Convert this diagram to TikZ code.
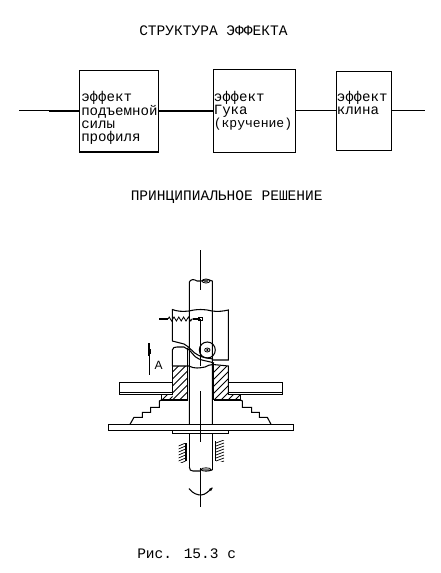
\documentclass[tikz,border=0pt]{standalone}
\usepackage{fontspec}
\setmainfont{Liberation Mono}
\usetikzlibrary{decorations.pathmorphing}
\newcommand{\hatchrect}[5]{% x0 y0 x1 y1 spacing
  \begin{scope}
    \clip (#1,#2) rectangle (#3,#4);
    \foreach \k in {-10,...,14} {
      \draw[hatchline] ({#1+\k*#5},#4) -- ({#1+\k*#5+(#4-#2)},#2);
    }
  \end{scope}}
\newcommand{\bearing}[4]{% x0 x1 y0 y1
  \begin{scope}
    \clip (#1,#3) rectangle (#2,#4);
    \foreach \k in {0,...,8} {
      \draw[hatchline] (#1,{#3+3+\k*3}) -- (#2,{#3+\k*3});
    }
  \end{scope}}
\tikzset{
  ln/.style={line width=0.8pt,black},
  hatchline/.style={line width=0.55pt,black},
  txt/.style={inner sep=0pt,font=\fontsize{10.6}{9.6}\selectfont,align=left,anchor=north west},
  ttl/.style={inner sep=0pt,font=\fontsize{10.9}{9.75}\selectfont,anchor=west},
  bx/.style={draw,line width=0.8pt,inner sep=0pt}
}
\begin{document}
\begin{tikzpicture}[x=0.75pt,y=-0.75pt]
\useasboundingbox (0,0) rectangle (440,573);
\fill[white] (0,0) rectangle (440,573);
% titles
\node[ttl] (t1) at (139,31) {СТРУКТУРА ЭФФЕКТА};
\node[ttl] (t2) at (130.5,197) {ПРИНЦИПИАЛЬНОЕ РЕШЕНИЕ};
\node[ttl] (t3) at (137,554) {Рис. 15.3 с};
% block diagram
\node[bx,minimum width=78.5pt*0.75,minimum height=81.5pt*0.75,anchor=north west] (b1) at (79.3,70) {};
\node[bx,minimum width=81.5pt*0.75,minimum height=83pt*0.75,anchor=north west] (b2) at (213.3,69) {};
\node[bx,minimum width=54.5pt*0.75,minimum height=79pt*0.75,anchor=north west] (b3) at (336.3,71) {};
\node[txt] (l1) at (81,91) {эффект\\подъемной\\силы\\профиля};
\node[txt] (l2) at (213.5,91) {эффект\\Гука\\{\fontsize{9.8}{9.6}\selectfont(кручение)}};
\node[txt] (l3) at (336.5,91) {эффект\\клина};
\coordinate (in0) at (19,110.3);
\coordinate (in1) at (49,110.3);
\coordinate (in2) at (49,111);
\coordinate (out) at (425,110.3);
\draw[ln] (in0) -- (in1);
\draw[ln] (in2) -- (b1.west |- in2);
\draw[ln] (b1.east |- in2) -- (b2.west |- in2);
\draw[ln] (b2.east |- 0,110.3) -- (b3.west |- 0,110.3);
\draw[ln] (b3.east |- out) -- (out);
% hatching
\hatchrect{172.5}{366}{187}{400}{7}
\hatchrect{214}{366}{228}{400}{7}
\hatchrect{162}{394.5}{172.5}{400}{7}
\hatchrect{228}{394.5}{240}{400}{7}
\bearing{178.5}{185.5}{443}{462}
\bearing{216}{224}{440}{461}
% axis
\draw[ln] (200.3,250) -- (200.3,290);
\draw[ln] (200.3,319) -- (200.3,366);
\draw[ln] (200.3,391) -- (200.3,442);
\draw[ln] (200.3,468) -- (200.3,507);
% shaft
\draw[ln] (189.3,467) .. controls (189.3,470) and (191,471) .. (193,471) -- (200,471);
\draw[ln] (200,470) .. controls (204,469) and (208,472) .. (212.3,470);
\draw[ln] (189.3,433) -- (189.3,467);
\draw[ln] (212.3,433) -- (212.3,470);
\draw[ln] (189.3,424.3) -- (189.3,282) .. controls (191,279) and (194,279) .. (197,281) .. controls (202,282) and (208,278) .. (212.3,281) -- (212.3,424.3);
\draw[line width=0.6pt] (206,281) ellipse (4 and 2);
\fill[black!70] (206,281) ellipse (2.5 and 1);
\draw[line width=0.6pt] (206,469.5) ellipse (5 and 1.7);
\fill[black!50] (206,469.5) ellipse (4 and 1.2);
% upper sleeve
\draw[ln] (172.3,341) -- (172.3,309.5) .. controls (176,311) and (182,312) .. (189,311) .. controls (197,309) and (205,309) .. (212,311) .. controls (218,312) and (224,311) .. (228.3,310) -- (228.3,360) -- (212,360);
% cam curve
\draw[ln] (172.3,341) -- (184,344) .. controls (190,347) and (193,353) .. (198,355) .. controls (203,358) and (208,358) .. (213,359);
\draw[ln] (187,348) .. controls (192,352) and (194,357) .. (199,359) .. controls (204,361) and (208,361) .. (214,363);
% roller
\draw[ln] (207.3,350) circle (8);
\draw[line width=0.6pt,fill=white] (207.3,350) ellipse (2.7 and 2);
\fill (207.3,350) circle (1.3);
% lower hub
\draw[ln] (172.3,366) -- (172.3,350) .. controls (172.3,347.5) and (175,347) .. (177,347) -- (184,347) -- (187,349);
\draw[ln] (187.5,349) -- (187.5,400);
\draw[ln] (213.5,363) -- (213.5,400);
\draw[ln] (172.3,366) -- (189,366) .. controls (194,369) and (200,368) .. (205,367) .. controls (208,366) and (210,364) .. (213,364.5) -- (228.3,366) -- (228.3,394.5);
\draw[ln] (172.3,366) -- (172.3,394.5);
% discs
\draw[ln] (172.3,382.3) -- (119.3,382.3) -- (119.3,394.5) -- (172.3,394.5) -- cycle;
\draw[ln] (119.3,392.7) -- (172.3,392.7);
\draw[ln] (228.3,382.3) -- (282.7,382.3) -- (282.7,394.5) -- (228.3,394.5) -- cycle;
\draw[ln] (228.3,392.7) -- (282.7,392.7);
% stairs
\draw[ln] (161.3,394.5) -- (161.3,400) -- (187.5,400);
\draw[ln] (240.7,394.5) -- (240.7,400) -- (213.5,400);
\draw[ln] (161.3,400) -- (159.3,401) -- (159.3,407.3) -- (150.7,407.3) -- (150.7,412.3) -- (142.3,412.3) -- (142.3,417.3) -- (134,417.3) -- (130,424.3);
\draw[ln] (240.7,400) -- (242.3,401) -- (242.3,407.3) -- (251.7,407.3) -- (251.7,412.3) -- (259.3,412.3) -- (259.3,417.3) -- (267.3,417.3) -- (271,424.3);
% base plate
\draw[ln] (108.3,424.3) rectangle (293.7,430.7);
\draw[ln] (172.3,430.7) -- (172.3,433.3) -- (228.3,433.3) -- (228.3,430.7);
% bearings
\draw[ln] (186,443) -- (186,461);
\draw[ln] (215.3,441) -- (215.3,461);
% spring
\draw[line width=1.4pt] (159,319) -- (164,319);
\draw[ln] (164,319) -- (168,319);
\draw[line width=0.6pt,decorate,decoration={zigzag,amplitude=1.5,segment length=3.6}] (168,319) -- (193,319);
\draw[ln] (193,319) -- (199,319);
\draw[ln] (199,317.5) rectangle (202.5,320.5);
% arrow A
\draw[ln] (149.3,343) -- (149.3,375);
\draw[line width=1.3pt] (149.3,343) -- (149.3,356);
\draw[line width=2.4pt] (149.3,349) -- (149.3,354);
\node[inner sep=0pt,font=\fontspec{Liberation Sans}\fontsize{9}{9}\selectfont] (a) at (158.5,365.5) {A};
% rotation arrow
\draw[ln] (189,488.5) .. controls (193,494) and (198,495) .. (201,495) .. controls (205,495) and (209,491) .. (212,488);
\fill (212.8,487.5) -- (209,489) -- (211,491) -- cycle;
\end{tikzpicture}
\end{document}
